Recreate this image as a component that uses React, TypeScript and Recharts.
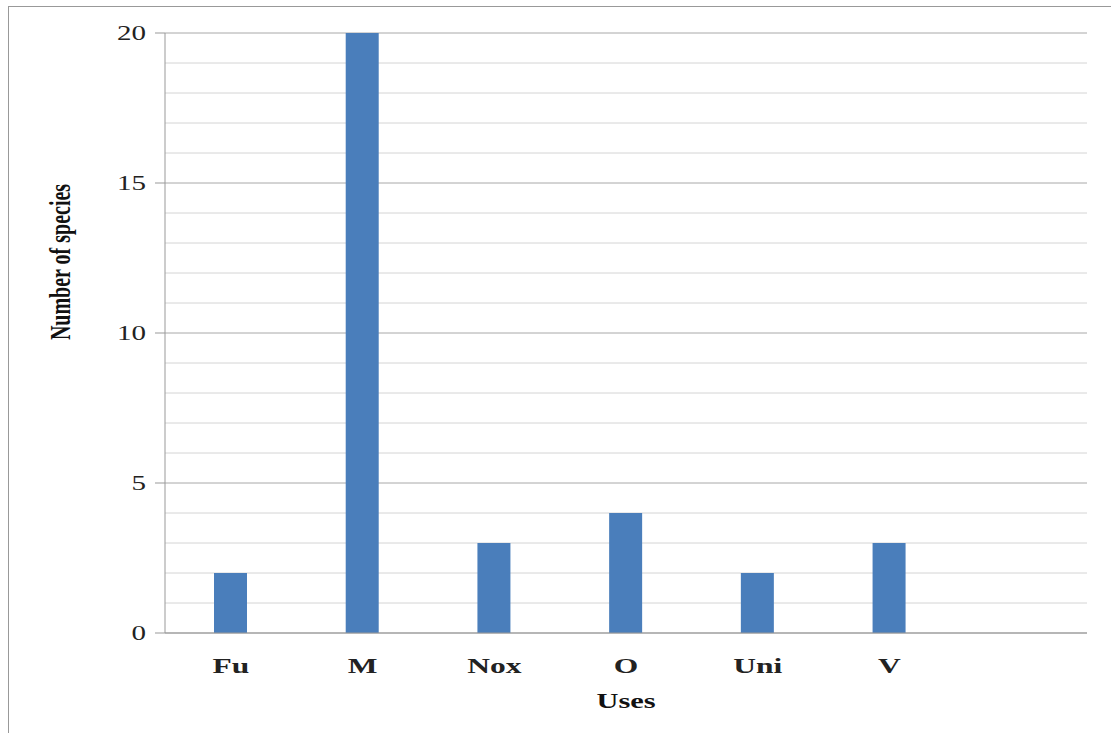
import { BarChart, Bar, XAxis, YAxis, CartesianGrid } from 'recharts'

const USES = ['Fu', 'M', 'Nox', 'O', 'Uni', 'V', '']
const SPECIES = [2, 20, 3, 4, 2, 3, null]
const Y_TICKS = [0, 5, 10, 15, 20]
const MINOR_LINES = [1, 2, 3, 4, 6, 7, 8, 9, 11, 12, 13, 14, 16, 17, 18, 19]

const data = USES.map((use, i) => ({ use, species: SPECIES[i] }))

const FONT = '"Liberation Serif", "Times New Roman", serif'
const STRETCH = 1.45

const YTick = ({ x, y, payload }: any) => (
  <text
    transform={`translate(${x},${y}) scale(${STRETCH},1)`}
    textAnchor="end"
    dy="0.35em"
    fontFamily={FONT}
    fontSize={20}
    fill="#222"
  >
    {payload.value}
  </text>
)

const XTick = ({ x, y, payload }: any) => (
  <text
    transform={`translate(${x},${y + 12}) scale(1.5,1)`}
    textAnchor="middle"
    fontFamily={FONT}
    fontSize={21}
    fontWeight="bold"
    fill="#222"
  >
    {payload.value}
  </text>
)

const XTitle = ({ viewBox }: any) => (
  <text
    transform={`translate(${viewBox.x + viewBox.width / 2},${viewBox.y + 75}) scale(1.45,1)`}
    textAnchor="middle"
    fontFamily={FONT}
    fontSize={21}
    fontWeight="bold"
    fill="#111"
  >
    Uses
  </text>
)

const YTitle = ({ viewBox }: any) => (
  <text
    transform={`translate(${viewBox.x + 45},${viewBox.y + 229}) scale(1.45,1) rotate(-90)`}
    textAnchor="middle"
    fontFamily={FONT}
    fontSize={20}
    fontWeight="bold"
    fill="#111"
  >
    Number of species
  </text>
)

export default function App() {
  return (
    <div style={{ position: 'absolute', left: 0, top: 0, width: 1111, height: 733, background: '#fff' }}>
      <div
        style={{
          position: 'absolute',
          left: 8,
          top: 6,
          right: 0,
          bottom: 0,
          borderTop: '1px solid #999',
          borderLeft: '1px solid #999',
        }}
      />
      <BarChart
        width={1111}
        height={733}
        data={data}
        margin={{ top: 33, right: 24, bottom: 40, left: 25 }}
        style={{ position: 'absolute', left: 0, top: 0 }}
      >
        <CartesianGrid vertical={false} horizontalValues={MINOR_LINES} stroke="#d4d4d4" />
        <CartesianGrid vertical={false} stroke="#a8a8a8" />
        <XAxis
          dataKey="use"
          height={60}
          tickLine={false}
          tickSize={0}
          tickMargin={28}
          axisLine={{ stroke: '#999' }}
          tick={<XTick />}
          interval={0}
          label={{ content: <XTitle /> }}
        />
        <YAxis
          width={140}
          domain={[0, 20]}
          ticks={Y_TICKS}
          interval={0}
          tickSize={10}
          tickMargin={9}
          axisLine={{ stroke: '#999' }}
          tickLine={{ stroke: '#999' }}
          tick={<YTick />}
          label={{ content: <YTitle /> }}
        />
        <Bar dataKey="species" fill="#4a7ebb" barSize={33} isAnimationActive={false} />
      </BarChart>
    </div>
  )
}
